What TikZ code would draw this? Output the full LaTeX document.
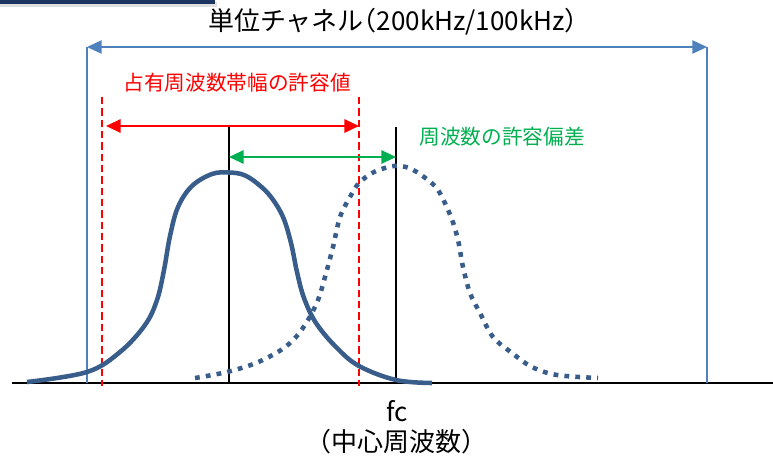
\documentclass[tikz,border=0pt]{standalone}
\usepackage{fontspec}
\setmainfont{Noto Sans CJK JP}
\usetikzlibrary{arrows.meta}
\definecolor{curveblue}{HTML}{385D8A}
\definecolor{chanblue}{HTML}{4F81BD}
\definecolor{barnavy}{HTML}{1B3462}
\definecolor{devgreen}{HTML}{00B050}
\tikzset{
  bigtext/.style={font=\fontsize{19.5}{23}\selectfont},
  smalltext/.style={font=\fontsize{15.5}{19}\selectfont},
  tip/.style={-{Triangle[length=11pt,width=10pt]}},
  dtip/.style={{Triangle[length=11pt,width=10pt]}-{Triangle[length=11pt,width=10pt]}}
}
\begin{document}
\begin{tikzpicture}[x=0.75pt,y=-0.75pt]

    % Fix the picture size (pixels of the reference)
    \useasboundingbox (0,0) rectangle (773,457);

    % Bar at the top left corner
    \fill[black!25,opacity=0.5] (0,2) rectangle (217,7);
    \fill[barnavy] (0,0) rectangle (215,3.5);

    % Define the coordinates of the channel edges
    \coordinate (chL) at (87,47);        % Left end of channel arrow
    \coordinate (chR) at (707,47);       % Right end of channel arrow
    \coordinate (chLb) at (87,383);      % Left edge on the axis
    \coordinate (chRb) at (707,383);     % Right edge on the axis

    % Define the coordinates of the allowed occupied band
    \coordinate (obL) at (102,97);       % Top of left red line
    \coordinate (obR) at (359,97);       % Top of right red line
    \coordinate (obLb) at (102,386);     % Bottom of left red line
    \coordinate (obRb) at (359,386);     % Bottom of right red line
    \coordinate (obArL) at (106,126);    % Left end of red arrow
    \coordinate (obArR) at (359,126);    % Right end of red arrow

    % Define the coordinates of the centre lines
    \coordinate (fcA) at (229,127);      % Top of first centre line
    \coordinate (fcAb) at (229,383);     % Bottom of first centre line
    \coordinate (fcB) at (396,127);      % Top of second centre line
    \coordinate (fcBb) at (396,383);     % Bottom of second centre line
    \coordinate (devL) at (229,157);     % Left end of green arrow
    \coordinate (devR) at (396,157);     % Right end of green arrow

    % Define the ends of the frequency axis
    \coordinate (axL) at (12,383);
    \coordinate (axR) at (773,383);

    % Draw the frequency axis
    \draw[line width=1.5pt] (axL) -- (axR);

    % Draw the channel edges and the channel arrow
    \draw[chanblue,line width=1.1pt] (chL) -- (chLb);
    \draw[chanblue,line width=1.1pt] (chR) -- (chRb);
    \draw[chanblue,line width=1.1pt,dtip] (chL) -- (chR);

    % Draw the limits of the occupied band
    \draw[red,line width=1.4pt,dash pattern=on 5.5pt off 3pt] (obL) -- (obLb);
    \draw[red,line width=1.4pt,dash pattern=on 5.5pt off 3pt] (obR) -- (obRb);
    \draw[red,line width=1.5pt,dtip] (obArL) -- (obArR);

    % Draw the centre lines
    \draw[line width=1.4pt] (fcA) -- (fcAb);
    \draw[line width=1.4pt] (fcB) -- (fcBb);

    % Draw the frequency deviation arrow
    \draw[devgreen,line width=1.5pt,dtip] (devL) -- (devR);

    % Draw the spectrum at the centre frequency
    \draw[curveblue,line width=3.4pt,line join=round] plot[smooth,tension=0.6] coordinates {
      (27,382) (87,372) (120,352) (145,325) (157,300) (164,270) (170,236)
      (178,207) (192,186) (212,174) (229,172.5) (244,175) (258,184)
      (271,197) (283,217) (291,243) (297,272) (304,298) (316,323)
      (336,347) (359,366) (396,380) (432,383)};

    % Draw the shifted spectrum
    \draw[curveblue,line width=3.4pt,dash pattern=on 3.6pt off 4.6pt] plot[smooth,tension=0.55] coordinates {
      (195,378) (227,372) (256,363) (281,350) (296,337) (308,320)
      (318,300) (325,277) (333,247) (340,217) (350,197) (359,183)
      (374,172) (394,166) (409,168) (424,177) (438,190) (451,217)
      (458,240) (463,267) (470,293) (480,313) (493,337) (512,353)
      (532,367) (557,375) (598,378)};

    % Label the channel
    \node[bigtext] (title) at (393,22) {単位チャネル{\addfontfeatures{RawFeature=+halt}（}200kHz/100kHz{\addfontfeatures{RawFeature=+halt}）}};

    % Label the occupied band
    \node[smalltext,red] (obLabel) at (237,83) {占有周波数帯幅の許容値};

    % Label the deviation
    \node[smalltext,devgreen] (devLabel) at (502,137) {周波数の許容偏差};

    % Label the centre frequency
    \node[bigtext] (fcLabel) at (397,411) {fc};
    \node[bigtext] (fcName) at (396,442) {（中心周波数）};

\end{tikzpicture}
\end{document}
